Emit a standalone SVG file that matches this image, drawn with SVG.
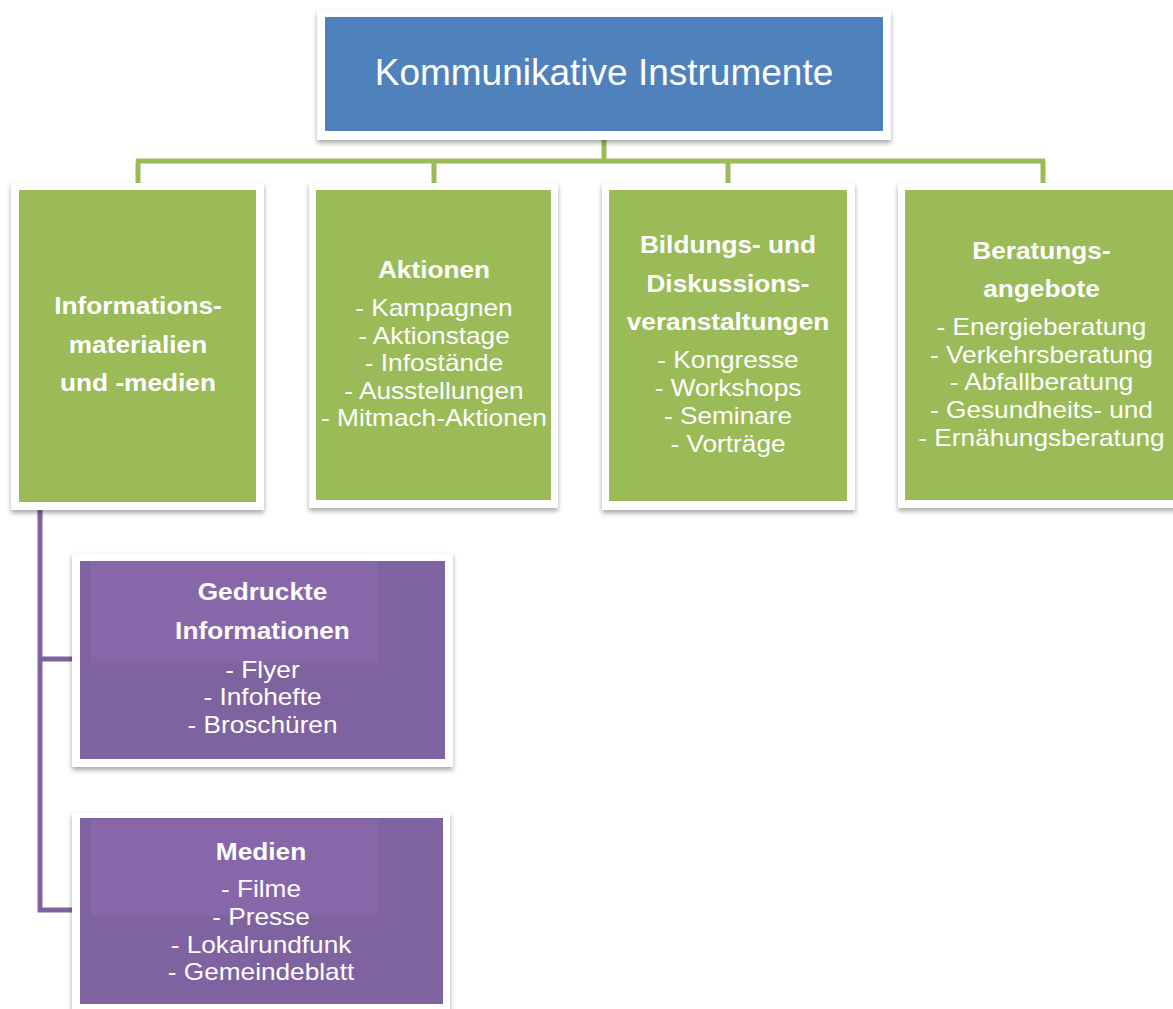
<svg xmlns="http://www.w3.org/2000/svg" width="1173" height="1009" viewBox="0 0 1173 1009">
<defs>
<filter id="sh" x="-10%" y="-10%" width="120%" height="125%">
<feGaussianBlur in="SourceAlpha" stdDeviation="2.5"/>
<feOffset dx="0" dy="3" result="b"/>
<feComponentTransfer><feFuncA type="linear" slope="0.35"/></feComponentTransfer>
<feMerge><feMergeNode/><feMergeNode in="SourceGraphic"/></feMerge>
</filter>
<style>
.frame{fill:#ffffff;filter:url(#sh)}
.blue{fill:#4f81bd}
.green{fill:#9bbb59}
.purple{fill:#7f63a0}
.plight{fill:#8767a9}
.t{font-family:"Liberation Sans",Arial,sans-serif;fill:#ffffff;text-anchor:middle}
.h{font-weight:bold;font-size:23px}
.l{font-size:23px}
.gc{fill:none;stroke:#9bbb59;stroke-width:5}
.pc{fill:none;stroke:#7f63a0;stroke-width:5}
</style>
</defs>
<rect width="1173" height="1009" fill="#ffffff"/>
<g id="connectors">
<path class="gc" d="M604,138 V161 M136,161 H1045 M138,161 V185 M434,161 V185 M728,161 V185 M1043,161 V185"/>
<path class="pc" d="M40,508 V910 H74 M40,659 H74"/>
</g>
<g id="n-root">
<rect class="frame" x="317" y="10" width="574" height="130"/>
<rect class="blue" x="325" y="17" width="558" height="114"/>
<text class="t" x="604" y="85" font-size="37">Kommunikative Instrumente</text>
</g>
<g id="n-info">
<rect class="frame" x="11" y="183" width="253" height="327"/>
<rect class="green" x="19" y="190" width="237" height="312"/>
<g transform="matrix(1.14,0,0,1,-19.32,0)">
<text class="t h" x="138" y="314">Informations-</text>
<text class="t h" x="138" y="353">materialien</text>
<text class="t h" x="138" y="391.5">und -medien</text>
</g>
</g>
<g id="n-aktionen">
<rect class="frame" x="309" y="183" width="249" height="325"/>
<rect class="green" x="316" y="190" width="235" height="310"/>
<g transform="matrix(1.14,0,0,1,-60.76,0)">
<text class="t h" x="434" y="278.5">Aktionen</text>
<text class="t l" x="434" y="316.5">- Kampagnen</text>
<text class="t l" x="434" y="344">- Aktionstage</text>
<text class="t l" x="434" y="371.5">- Infostände</text>
<text class="t l" x="434" y="399">- Ausstellungen</text>
<text class="t l" x="434" y="426.5">- Mitmach-Aktionen</text>
</g>
</g>
<g id="n-bildung">
<rect class="frame" x="602" y="183" width="253" height="327"/>
<rect class="green" x="609" y="190" width="238" height="311"/>
<g transform="matrix(1.14,0,0,1,-101.92,0)">
<text class="t h" x="728" y="253">Bildungs- und</text>
<text class="t h" x="728" y="292">Diskussions-</text>
<text class="t h" x="728" y="330">veranstaltungen</text>
<text class="t l" x="728" y="368">- Kongresse</text>
<text class="t l" x="728" y="396">- Workshops</text>
<text class="t l" x="728" y="424">- Seminare</text>
<text class="t l" x="728" y="452">- Vorträge</text>
</g>
</g>
<g id="n-beratung">
<rect class="frame" x="898" y="183" width="290" height="325"/>
<rect class="green" x="905" y="190" width="276" height="310"/>
<g transform="matrix(1.14,0,0,1,-145.81,0)">
<text class="t h" x="1041.5" y="259">Beratungs-</text>
<text class="t h" x="1041.5" y="297">angebote</text>
<text class="t l" x="1041.5" y="335">- Energieberatung</text>
<text class="t l" x="1041.5" y="363">- Verkehrsberatung</text>
<text class="t l" x="1041.5" y="390.5">- Abfallberatung</text>
<text class="t l" x="1041.5" y="418">- Gesundheits- und</text>
<text class="t l" x="1041.5" y="446.5">- Ernähungsberatung</text>
</g>
</g>
<g id="n-gedruckt">
<rect class="frame" x="72" y="553" width="381" height="214"/>
<rect class="purple" x="80" y="561" width="365" height="198"/>
<rect class="plight" x="91" y="561" width="287" height="102"/>
<g transform="matrix(1.14,0,0,1,-36.75,0)">
<text class="t h" x="262.5" y="600">Gedruckte</text>
<text class="t h" x="262.5" y="639">Informationen</text>
<text class="t l" x="262.5" y="678">- Flyer</text>
<text class="t l" x="262.5" y="705.5">- Infohefte</text>
<text class="t l" x="262.5" y="733">- Broschüren</text>
</g>
</g>
<g id="n-medien">
<rect class="frame" x="72" y="812" width="378" height="205"/>
<rect class="purple" x="80" y="818" width="363" height="186"/>
<rect class="plight" x="91" y="820" width="287" height="95"/>
<g transform="matrix(1.14,0,0,1,-36.54,0)">
<text class="t h" x="261" y="860">Medien</text>
<text class="t l" x="261" y="897">- Filme</text>
<text class="t l" x="261" y="925">- Presse</text>
<text class="t l" x="261" y="953">- Lokalrundfunk</text>
<text class="t l" x="261" y="980">- Gemeindeblatt</text>
</g>
</g>
</svg>
